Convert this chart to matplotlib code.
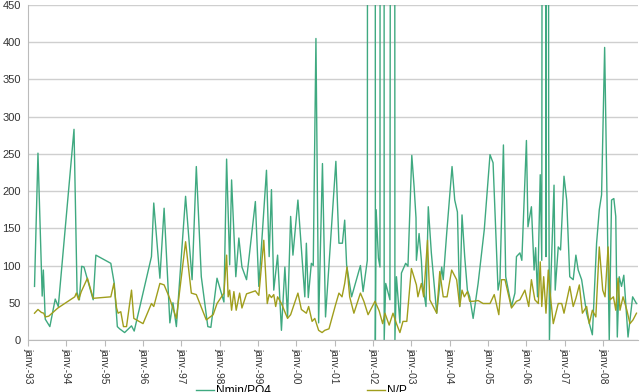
import matplotlib
matplotlib.use("Agg")
import matplotlib.pyplot as plt

plt.rcParams["font.family"] = ["Liberation Sans", "DejaVu Sans"]

# Nmin/PO4 — decimal year, ratio (values above 450 run off the top)
NMIN_YEARS = [
    1993.17, 1993.26, 1993.37, 1993.40, 1993.45, 1993.57, 1993.71, 1993.79,
    1994.20, 1994.28, 1994.34, 1994.40, 1994.46, 1994.70, 1994.77,
    1995.16, 1995.25, 1995.33, 1995.39, 1995.52, 1995.70, 1995.77,
    1996.22, 1996.28, 1996.44, 1996.55, 1996.70, 1996.78, 1996.87,
    1997.11, 1997.28, 1997.39, 1997.52, 1997.69, 1997.77, 1997.93,
    1998.11, 1998.18, 1998.26, 1998.31, 1998.42, 1998.50, 1998.58, 1998.70, 1998.93,
    1999.02, 1999.22, 1999.29, 1999.35, 1999.41, 1999.51, 1999.61, 1999.70, 1999.77,
    1999.85, 1999.91,
    2000.04, 2000.22, 2000.26, 2000.31, 2000.39, 2000.44, 2000.51, 2000.58, 2000.68, 2000.76,
    2001.03, 2001.11, 2001.20, 2001.26, 2001.31, 2001.44, 2001.67, 2001.74, 2001.85, 2001.88,
    2002.05, 2002.06, 2002.08, 2002.14, 2002.18, 2002.20, 2002.28, 2002.29, 2002.33, 2002.44,
    2002.50, 2002.55, 2002.57, 2002.61, 2002.70, 2002.74, 2002.85, 2002.91,
    2003.01, 2003.07, 2003.12, 2003.13, 2003.20, 2003.26, 2003.29, 2003.38, 2003.44, 2003.52,
    2003.66, 2003.79, 2003.83, 2003.92,
    2004.06, 2004.13, 2004.20, 2004.26, 2004.32, 2004.39, 2004.46, 2004.52, 2004.61, 2004.74, 2004.90,
    2005.05, 2005.13, 2005.26, 2005.31, 2005.40, 2005.46, 2005.61, 2005.70, 2005.74, 2005.83, 2005.88,
    2006.00, 2006.04, 2006.13, 2006.20, 2006.24, 2006.29, 2006.36, 2006.40, 2006.45, 2006.51,
    2006.55, 2006.58, 2006.60, 2006.64, 2006.72, 2006.75, 2006.83, 2006.89, 2006.98,
    2007.05, 2007.13, 2007.22, 2007.29, 2007.35, 2007.44, 2007.57, 2007.72, 2007.83, 2007.90, 2007.96,
    2008.04, 2008.16, 2008.22, 2008.28, 2008.33, 2008.37, 2008.42, 2008.48, 2008.54, 2008.65,
    2008.77, 2008.87,
]
NMIN_VALUES = [
    72, 251, 59, 94, 28, 18, 55, 45,
    283, 64, 54, 99, 98, 54, 114,
    103, 76, 18, 15, 10, 19, 12,
    112, 184, 83, 177, 23, 50, 18,
    193, 81, 233, 85, 18, 17, 83,
    51, 243, 101, 215, 85, 137, 98, 81, 186,
    72, 228, 112, 202, 67, 114, 13, 98, 31,
    166, 114,
    188, 58, 130, 57, 103, 100, 405, 23, 237, 31,
    240, 130, 130, 161, 101, 58, 100, 65, 107, 3000,
    3000, 0, 175, 110, 98, 3000, 3000, 0, 76, 54,
    3000, 3000, 0, 85, 23, 90, 103, 99,
    248, 206, 164, 107, 143, 107, 76, 45, 179, 117,
    36, 98, 81, 143,
    233, 188, 172, 45, 168, 112, 67, 58, 29, 76, 148,
    249, 238, 67, 81, 262, 85, 45, 63, 112, 117, 107,
    268, 152, 179, 94, 124, 58, 222, 107, 3000, 112,
    3000, 278, 0, 85, 208, 67, 125, 121, 220,
    188, 85, 81, 114, 94, 81, 36, 7, 130, 175, 195,
    393, 0, 188, 190, 166, 4, 85, 72, 87, 4,
    58, 49,
]

# N/P — decimal year, ratio
NP_YEARS = [
    1993.17, 1993.26, 1993.35, 1993.41, 1993.45, 1993.54, 1993.65, 1993.78,
    1994.22, 1994.26, 1994.32, 1994.39, 1994.55, 1994.70,
    1995.16, 1995.24, 1995.31, 1995.35, 1995.42, 1995.49, 1995.57, 1995.70, 1995.76,
    1996.00, 1996.22, 1996.28, 1996.44, 1996.55, 1996.68, 1996.87,
    1997.11, 1997.26, 1997.39, 1997.65, 1997.83, 1997.93,
    1998.11, 1998.18, 1998.22, 1998.26, 1998.31, 1998.37, 1998.43, 1998.52, 1998.58, 1998.70, 1998.93,
    1999.02, 1999.15, 1999.24, 1999.29, 1999.35, 1999.41, 1999.46, 1999.51, 1999.61, 1999.77, 1999.85,
    2000.04, 2000.13, 2000.26, 2000.32, 2000.41, 2000.48, 2000.58, 2000.67, 2000.74, 2000.85,
    2001.02, 2001.11, 2001.19, 2001.26, 2001.32, 2001.39, 2001.50, 2001.67, 2001.76, 2001.87,
    2002.05, 2002.16, 2002.25, 2002.31, 2002.42, 2002.52, 2002.61, 2002.70, 2002.78, 2002.88,
    2003.00, 2003.13, 2003.17, 2003.26, 2003.32, 2003.42, 2003.48, 2003.66, 2003.74, 2003.83, 2003.93,
    2004.05, 2004.18, 2004.26, 2004.32, 2004.38, 2004.46, 2004.52, 2004.61, 2004.74, 2004.87,
    2005.05, 2005.16, 2005.28, 2005.35, 2005.44, 2005.61, 2005.74, 2005.83, 2005.96,
    2006.06, 2006.13, 2006.22, 2006.31, 2006.36, 2006.40, 2006.45, 2006.51, 2006.57, 2006.61,
    2006.70, 2006.83, 2006.92, 2006.98,
    2007.13, 2007.22, 2007.29, 2007.38, 2007.46, 2007.57, 2007.64, 2007.72, 2007.81, 2007.90, 2007.99,
    2008.05, 2008.13, 2008.18, 2008.27, 2008.33, 2008.39, 2008.44, 2008.52, 2008.62, 2008.70,
    2008.78, 2008.87,
]
NP_VALUES = [
    36, 41, 37, 36, 31, 32, 37, 43,
    58, 63, 54, 65, 83, 56,
    58, 76, 43, 36, 38, 18, 18, 67, 29,
    22, 49, 45, 76, 74, 58, 29,
    132, 63, 61, 27, 34, 49,
    63, 114, 58, 67, 40, 65, 40, 63, 43, 62, 66,
    60, 134, 49, 61, 57, 61, 45, 58, 49, 29, 34,
    63, 41, 36, 45, 25, 29, 13, 10, 13, 15,
    47, 63, 58, 76, 98, 58, 36, 63, 52, 34,
    52, 39, 22, 36, 20, 36, 22, 10, 25, 25,
    96, 74, 58, 76, 58, 134, 54, 36, 92, 58, 58,
    94, 81, 45, 67, 58, 65, 52, 52, 53, 49,
    49, 61, 34, 81, 81, 43, 52, 54, 67,
    45, 81, 54, 49, 105, 45, 85, 36, 94, 67,
    22, 49, 49, 36,
    72, 45, 56, 74, 36, 45, 22, 40, 31, 125, 67,
    58, 125, 54, 58, 40, 83, 40, 58, 40, 22,
    27, 36,
]

YEAR_TICKS = list(range(1993, 2009))
YEAR_LABELS = [f"janv.-{y % 100:02d}" for y in YEAR_TICKS]

GREEN = "#3FA980"
OLIVE = "#A09E1C"

fig = plt.figure(figsize=(6.4, 3.92), dpi=100)
ax = fig.add_axes([28 / 640, 1 - 340 / 392, 610 / 640, 335 / 392])

ax.plot(NMIN_YEARS, NMIN_VALUES, color=GREEN, lw=1.0, label="Nmin/PO4")
ax.plot(NP_YEARS, NP_VALUES, color=OLIVE, lw=1.0, label="N/P")

ax.set_xlim(1993.0, 2008.91)
ax.set_ylim(0, 450)
ax.set_yticks(range(0, 451, 50))
ax.set_xticks(YEAR_TICKS)
ax.set_xticklabels(YEAR_LABELS, rotation=270, fontsize=7.3, color="#333333")
ax.tick_params(axis="y", length=0, labelsize=8, labelcolor="#333333", pad=5)
ax.tick_params(axis="x", length=4, color="#BBBBBB", pad=2)
ax.yaxis.grid(True, color="#CFCFCF", lw=1.0)
ax.set_axisbelow(True)
for side in ("top", "right"):
    ax.spines[side].set_visible(False)
ax.spines["left"].set_color("#BBBBBB")
ax.spines["bottom"].set_color("#BBBBBB")

# legend sits at the bottom edge and is partly cut off, as in the source
fig.legend(
    loc="center",
    bbox_to_anchor=(0.471, 0.002),
    ncol=2,
    frameon=False,
    fontsize=8.6,
    handlelength=1.5,
    handletextpad=0.2,
    columnspacing=8.0,
)

fig.savefig("out.png", dpi=100)
